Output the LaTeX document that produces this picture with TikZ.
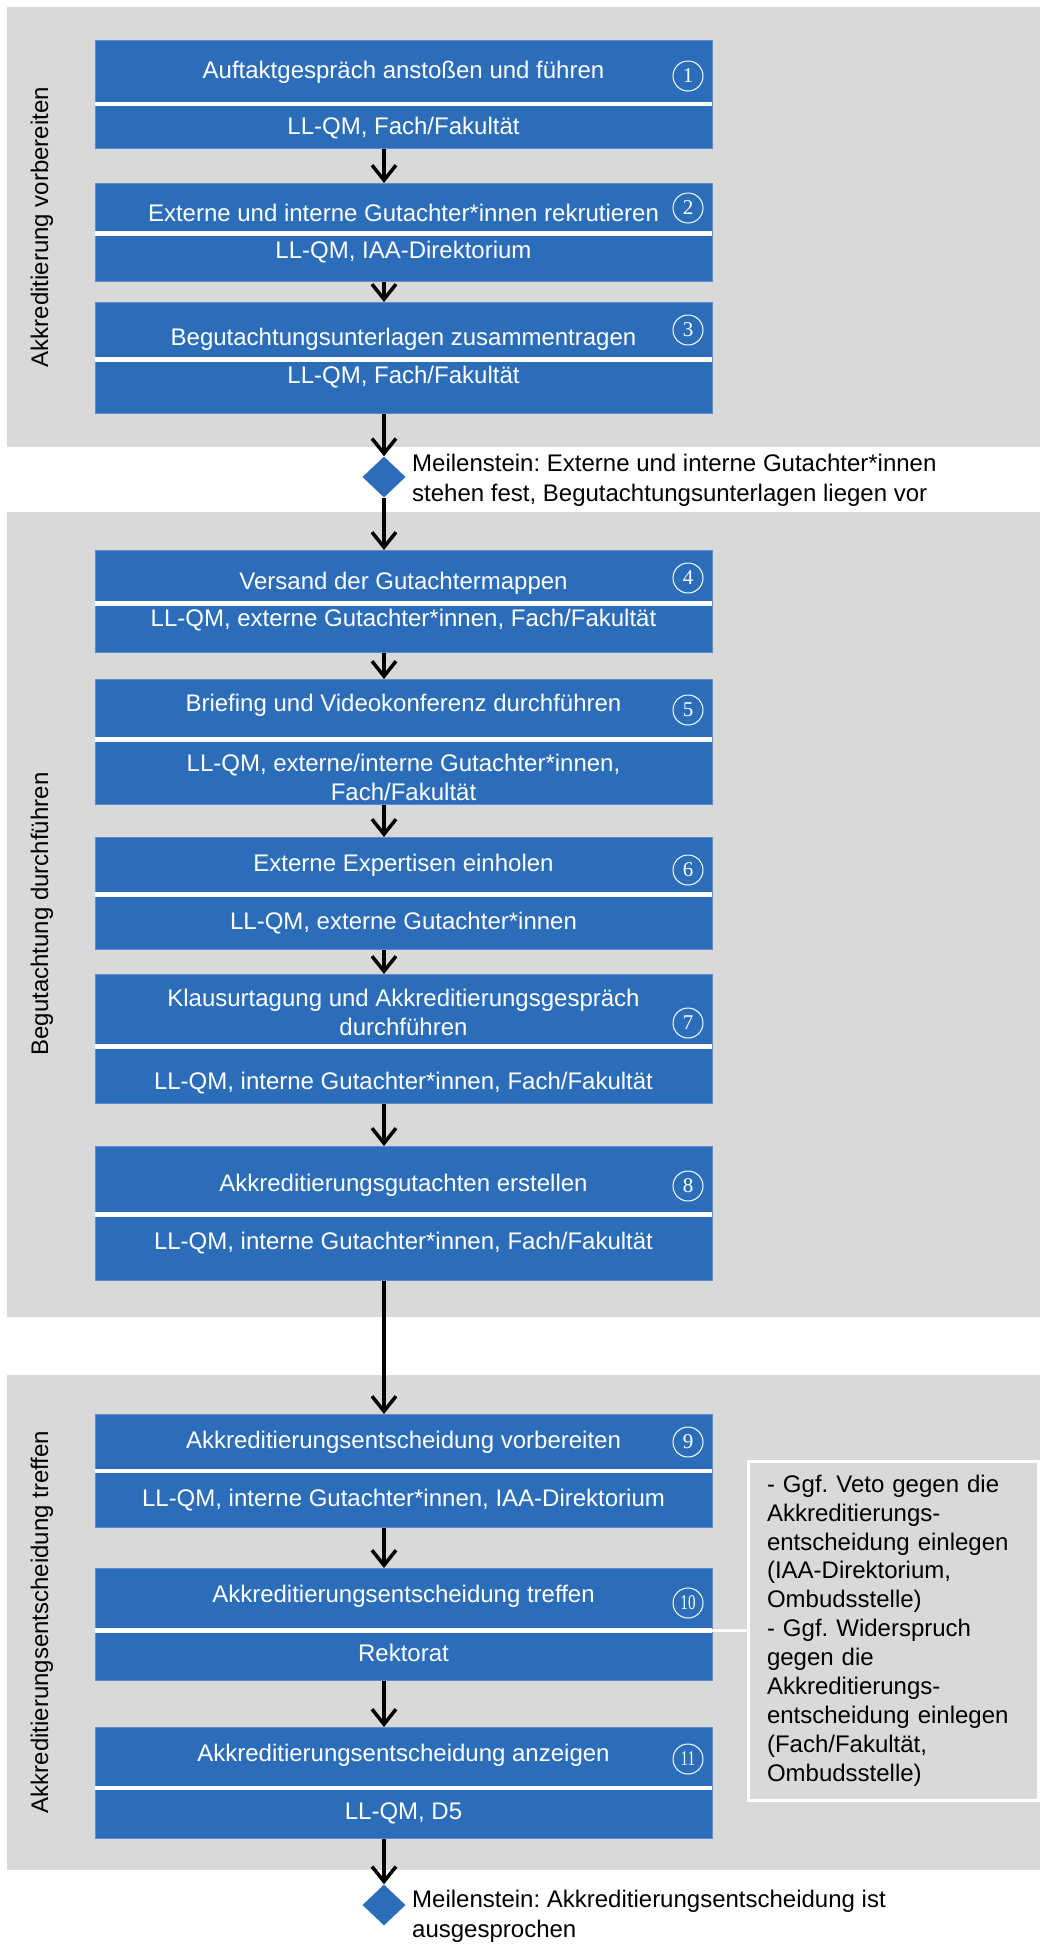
\documentclass[tikz,border=0pt]{standalone}
\usepackage{fontspec}
\usepackage{graphicx}
\setmainfont{Liberation Sans}
\newfontfamily\numfont{Liberation Serif}
\usetikzlibrary{arrows.meta,shapes.geometric}
\definecolor{boxblue}{RGB}{44,109,186}
\definecolor{boxedge}{RGB}{92,142,207}
\definecolor{panelgray}{RGB}{217,217,217}
\frenchspacing
\begin{document}
\begin{tikzpicture}[x=1pt,y=-1pt,
  txt/.style={font=\fontsize{24}{29}\selectfont, text=white, align=center, inner sep=0},
  stepbox/.style={fill=boxblue, draw=boxedge, line width=0.8pt, minimum width=617pt, inner sep=0, anchor=north},
  sepline/.style={white, line width=4.5pt},
  num/.style={circle, draw=white, line width=1pt, minimum size=30pt, inner sep=0, text=white, font=\numfont\fontsize{21}{21}\selectfont},
  flow/.style={line width=3.5pt, -{Straight Barb[length=15pt,width=24pt]}},
  ms/.style={diamond, fill=boxblue, minimum width=43pt, minimum height=41pt, inner sep=0},
  mstext/.style={font=\fontsize{24}{30}\selectfont, align=left, anchor=west, inner sep=0},
  lane/.style={rotate=90, font=\fontsize{24}{29}\selectfont, inner sep=0},
  note/.style={fill=panelgray, draw=white, line width=3pt, minimum width=290pt, minimum height=339pt, inner sep=0, text width=252pt, align=left, font=\fontsize{24}{28.9}\selectfont}
]
\useasboundingbox (0,0) rectangle (1040,1944);
\fill[white] (0,0) rectangle (1040,1944);
% panels
\fill[panelgray] (7,7) rectangle (1040,447);
\fill[panelgray] (7,512) rectangle (1040,1317);
\fill[panelgray] (7,1375) rectangle (1040,1870);
\node[lane] (l1) at (42,227) {Akkreditierung vorbereiten};
\node[lane] (l2) at (42,914) {Begutachtung durchführen};
\node[lane] (l3) at (42,1622) {Akkreditierungsentscheidung treffen};

% boxes
\node[stepbox, minimum height=108pt] (b1) at (403.5,40) {};
\node[stepbox, minimum height=98pt] (b2) at (403.5,183) {};
\node[stepbox, minimum height=111pt] (b3) at (403.5,302) {};
\node[stepbox, minimum height=102pt] (b4) at (403.5,550) {};
\node[stepbox, minimum height=125pt] (b5) at (403.5,679) {};
\node[stepbox, minimum height=112pt] (b6) at (403.5,837) {};
\node[stepbox, minimum height=129pt] (b7) at (403.5,974) {};
\node[stepbox, minimum height=134pt] (b8) at (403.5,1146) {};
\node[stepbox, minimum height=113pt] (b9) at (403.5,1414) {};
\node[stepbox, minimum height=112pt] (b10) at (403.5,1568) {};
\node[stepbox, minimum height=111pt] (b11) at (403.5,1727) {};

\draw[sepline] (b1.west |- 0,104) -- (b1.east |- 0,104);
\draw[sepline] (b2.west |- 0,233.5) -- (b2.east |- 0,233.5);
\draw[sepline] (b3.west |- 0,359.5) -- (b3.east |- 0,359.5);
\draw[sepline] (b4.west |- 0,603.5) -- (b4.east |- 0,603.5);
\draw[sepline] (b5.west |- 0,739.5) -- (b5.east |- 0,739.5);
\draw[sepline] (b6.west |- 0,894.5) -- (b6.east |- 0,894.5);
\draw[sepline] (b7.west |- 0,1046.5) -- (b7.east |- 0,1046.5);
\draw[sepline] (b8.west |- 0,1214.5) -- (b8.east |- 0,1214.5);
\draw[sepline] (b9.west |- 0,1471) -- (b9.east |- 0,1471);
\draw[sepline] (b10.west |- 0,1630.5) -- (b10.east |- 0,1630.5);
\draw[sepline] (b11.west |- 0,1788) -- (b11.east |- 0,1788);

% texts
\node[txt] (t1) at (403.5,72) {Auftaktgespräch anstoßen und führen};
\node[num] (n1) at (688,76) {1};
\node[txt] (s1) at (403.5,128) {LL-QM, Fach/Fakultät};

\node[txt] (t2) at (403.5,213) {Externe und interne Gutachter*innen rekrutieren};
\node[num] (n2) at (688,208) {2};
\node[txt] (s2) at (403.5,252) {LL-QM, IAA-Direktorium};

\node[txt] (t3) at (403.5,339) {Begutachtungsunterlagen zusammentragen};
\node[num] (n3) at (688,330) {3};
\node[txt] (s3) at (403.5,377) {LL-QM, Fach/Fakultät};

\node[txt] (t4) at (403.5,583) {Versand der Gutachtermappen};
\node[num] (n4) at (688,578) {4};
\node[txt] (s4) at (403.5,620) {LL-QM, externe Gutachter*innen, Fach/Fakultät};

\node[txt] (t5) at (403.5,705) {Briefing und Videokonferenz durchführen};
\node[num] (n5) at (688,710) {5};
\node[txt] (s5) at (403.5,777.5) {LL-QM, externe/interne Gutachter*innen,\\Fach/Fakultät};

\node[txt] (t6) at (403.5,865) {Externe Expertisen einholen};
\node[num] (n6) at (688,870) {6};
\node[txt] (s6) at (403.5,923) {LL-QM, externe Gutachter*innen};

\node[txt] (t7) at (403.5,1012) {Klausurtagung und Akkreditierungsgespräch\\durchführen};
\node[num] (n7) at (688,1023) {7};
\node[txt] (s7) at (403.5,1083) {LL-QM, interne Gutachter*innen, Fach/Fakultät};

\node[txt] (t8) at (403.5,1185) {Akkreditierungsgutachten erstellen};
\node[num] (n8) at (688,1186) {8};
\node[txt] (s8) at (403.5,1243) {LL-QM, interne Gutachter*innen, Fach/Fakultät};

\node[txt] (t9) at (403.5,1442) {Akkreditierungsentscheidung vorbereiten};
\node[num] (n9) at (688,1442) {9};
\node[txt] (s9) at (403.5,1500) {LL-QM, interne Gutachter*innen, IAA-Direktorium};

\node[txt] (t10) at (403.5,1596) {Akkreditierungsentscheidung treffen};
\node[num] (n10) at (688,1603) {\scalebox{0.72}[1]{10}};
\node[txt] (s10) at (403.5,1653) {Rektorat};

\node[txt] (t11) at (403.5,1755) {Akkreditierungsentscheidung anzeigen};
\node[num] (n11) at (688,1759) {\scalebox{0.72}[1]{11}};
\node[txt] (s11) at (403.5,1813) {LL-QM, D5};

% milestones
\node[ms] (m1) at (384,477) {};
\node[mstext] (mt1) at (412,480) {Meilenstein: Externe und interne Gutachter*innen\\stehen fest, Begutachtungsunterlagen liegen vor};
\node[ms] (m2) at (384,1905) {};
\node[mstext] (mt2) at (412,1916) {Meilenstein: Akkreditierungsentscheidung ist\\ausgesprochen};

% note
\node[note] (note) at (893,1630.5) {- Ggf. Veto gegen die\\Akkreditierungs-\\entscheidung einlegen\\(IAA-Direktorium,\\Ombudsstelle)\\- Ggf. Widerspruch\\gegen die\\Akkreditierungs-\\entscheidung einlegen\\(Fach/Fakultät,\\Ombudsstelle)};
\draw[white, line width=3pt] (note.west) -- (note.west -| b10.east);

% arrows
\draw[flow] (b1.south -| m1) -- (b2.north -| m1);
\draw[flow] (b2.south -| m1) -- (b3.north -| m1);
\draw[flow] (b3.south -| m1) -- (m1.north);
\draw[flow] (m1.south) -- (b4.north -| m1);
\draw[flow] (b4.south -| m1) -- (b5.north -| m1);
\draw[flow] (b5.south -| m1) -- (b6.north -| m1);
\draw[flow] (b6.south -| m1) -- (b7.north -| m1);
\draw[flow] (b7.south -| m1) -- (b8.north -| m1);
\draw[flow] (b8.south -| m1) -- (b9.north -| m1);
\draw[flow] (b9.south -| m1) -- (b10.north -| m1);
\draw[flow] (b10.south -| m1) -- (b11.north -| m1);
\draw[flow] (b11.south -| m1) -- (m2.north);
\end{tikzpicture}
\end{document}
